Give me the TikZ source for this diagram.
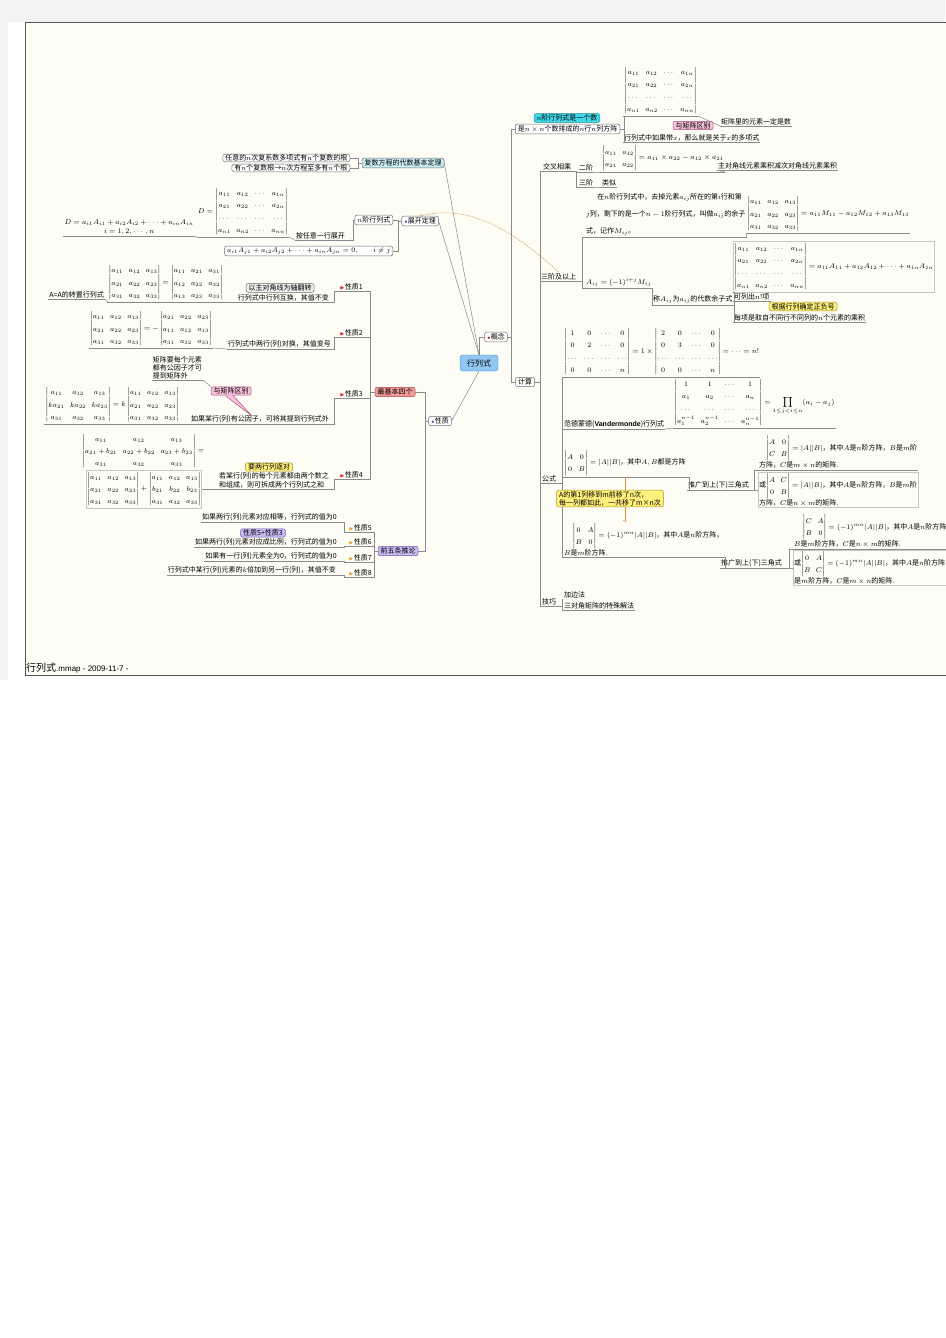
\documentclass[tikz,border=0pt]{standalone}
\usepackage{amsmath}
\usepackage{amssymb}
\usepackage[no-math]{fontspec}
\setmainfont{Noto Sans CJK SC}
\newfontfamily\lat{Liberation Sans}
\usepackage{tikz}
\usetikzlibrary{shapes}

\definecolor{bggray}{HTML}{F3F3F3}
\definecolor{cream}{HTML}{FDFDF5}
\definecolor{framegray}{HTML}{555555}
\definecolor{linegray}{HTML}{8A8A8A}
\definecolor{boxgray}{HTML}{6E6E6E}
\definecolor{cenfill}{HTML}{92C7F2}
\definecolor{cenline}{HTML}{3C7FC0}
\definecolor{cyanlt}{HTML}{C9EEF4}
\definecolor{cyanc}{HTML}{3FD6E6}
\definecolor{cyanb}{HTML}{1F8C98}
\definecolor{pinkc}{HTML}{F8C0DD}
\definecolor{pinkb}{HTML}{A8507E}
\definecolor{yelc}{HTML}{FFF17C}
\definecolor{yelb}{HTML}{A89020}
\definecolor{purc}{HTML}{CBBAF3}
\definecolor{purb}{HTML}{6F58B0}
\definecolor{redc}{HTML}{F39C9C}
\definecolor{redb}{HTML}{A84444}
\definecolor{grayc}{HTML}{EFEFEF}
\definecolor{orc}{HTML}{D99048}
\definecolor{flagred}{HTML}{E02020}
\definecolor{flagyel}{HTML}{E8A020}
\definecolor{dotblue}{HTML}{5050D0}

\newcommand{\rflag}{\textcolor{flagred}{$\scriptscriptstyle\blacktriangleright$}}
\newcommand{\yflag}{\textcolor{flagyel}{$\scriptscriptstyle\blacktriangleright$}}
\newcommand{\rdot}{\textcolor{flagred}{$\scriptstyle\bullet$}}
\newcommand{\bdot}{\textcolor{dotblue}{$\scriptstyle\bullet$}}
\renewcommand{\arraystretch}{1.35}
\setlength{\arraycolsep}{2.8pt}

\begin{document}
\begin{tikzpicture}[x=1pt,y=-1pt,
  every node/.style={font=\fontsize{7}{9}\selectfont, inner sep=1pt},
  lk/.style={draw=linegray, line width=0.5pt},
  ul/.style={append after command={(\tikzlastnode.south west) edge[lk] (\tikzlastnode.south east)}},
  bx/.style={draw=boxgray, fill=white, rounded corners=2pt, inner xsep=2.5pt, inner ysep=1.5pt, line width=0.5pt},
  cl/.style={draw, rounded corners=2pt, inner xsep=2.5pt, inner ysep=1pt, line width=0.5pt},
  fbx/.style={draw=gray!45, line width=0.4pt, inner sep=1pt},
  hub/.style={draw=cenline, fill=cenfill, rounded corners=3pt, minimum width=38pt, minimum height=16pt, font=\fontsize{8}{10}\selectfont},
  orln/.style={draw=orc, line width=0.5pt}]

\useasboundingbox (0,0) rectangle (945,1338);
\fill[white] (0,0) rectangle (945,1338);
\fill[bggray] (0,0) rectangle (945,22);
\fill[bggray] (0,22) rectangle (8,680);
\filldraw[fill=cream,draw=framegray,line width=0.6pt] (25,22.5) rectangle (950,675);

\node[anchor=south west,inner sep=0] (ft) at (26,673) {\fontsize{10}{10}\selectfont 行列式{\lat\fontsize{8}{10}\selectfont .mmap - 2009-11-7 -}};

% centre
\node[hub] (hls) at (479,363) {行列式};
\node[bx] (gn) at (496,337) {\rdot 概念};
\node[bx] (js) at (525,382) {计算};
\node[bx] (xz) at (440,421) {\bdot 性质};
\node[bx] (zk) at (420,221) {\bdot 展开定理};
\node[bx,fill=cyanlt] (fsd) at (403,163) {复数方程的代数基本定理};

\draw[lk] (hls.north) |- (gn.west);
\draw[lk] (hls.south) -- (xz.east);
\draw[lk] (zk.east) -- (hls.north);
\draw[lk] (fsd.east) -- (hls.north);

% fundamental theorem
\node[bx,anchor=east,inner ysep=0.5pt] (f1) at (350,158) {任意的$n$次复系数多项式有$n$个复数的根};
\node[bx,anchor=east,inner ysep=0.5pt] (f2) at (350,168) {有$n$个复数根→$n$次方程至多有$n$个根};
\draw[lk] (fsd.west) -- ++(-4,0) |- (f1.east);
\draw[lk] (fsd.west) -- ++(-4,0) |- (f2.east);

% expansion
\node[bx,anchor=east] (nj) at (393,220) {$n$阶行列式};
\node[bx,anchor=east] (ez) at (393,251) {$a_{i1}A_{j1}+a_{i2}A_{j2}+\cdots+a_{in}A_{jn}=0,\qquad i\neq j$};
\node[ul,anchor=south east] (az) at (346,240) {按任意一行展开};
\node[ul,anchor=south east] (dm) at (289,237) {$D=\begin{vmatrix}a_{11}&a_{12}&\cdots&a_{1n}\\a_{21}&a_{22}&\cdots&a_{2n}\\\cdots&\cdots&\cdots&\cdots\\a_{n1}&a_{n2}&\cdots&a_{nn}\end{vmatrix}$};
\node[ul,anchor=south east,align=center] (df) at (195,236) {$D=a_{i1}A_{i1}+a_{i2}A_{i2}+\cdots+a_{in}A_{in}$\\$i=1,2,\cdots,n$};
\draw[lk] (zk.west) -- ++(-3,0) |- (nj.east);
\draw[lk] (zk.west) -- ++(-3,0) |- (ez.east);
\draw[lk] (nj.west) -- ++(-1,0) |- (az.south east);
\draw[lk] (az.south west) -- (dm.south east);
\draw[lk] (dm.south west) -- (df.south east);

% properties
\node[bx,fill=redc,draw=redb] (zx4) at (395,392) {最基本四个};
\node[bx,fill=purc,draw=purb] (tl5) at (398,551) {前五条推论};
\draw[lk] (xz.west) -- ++(-3,0) |- (zx4.east);
\draw[lk] (xz.west) -- ++(-3,0) |- (tl5.east);

\node[ul,anchor=south east] (p1) at (364,291) {\rflag 性质1};
\node[ul,anchor=south east] (p2) at (364,337) {\rflag 性质2};
\node[ul,anchor=south east] (p3) at (364,398) {\rflag 性质3};
\node[ul,anchor=south east] (p4) at (364,479) {\rflag 性质4};
\foreach \p in {p1,p2,p3,p4}
  \draw[lk] (zx4.west) -- ++(-5,0) |- (\p.south east);

\node[ul,anchor=south east] (t1) at (330,302) {行列式中行列互换，其值不变};
\node[ul,anchor=south east] (m1) at (224,302) {$\begin{vmatrix}a_{11}&a_{12}&a_{13}\\a_{21}&a_{22}&a_{23}\\a_{31}&a_{32}&a_{33}\end{vmatrix}=\begin{vmatrix}a_{11}&a_{21}&a_{31}\\a_{12}&a_{22}&a_{32}\\a_{13}&a_{23}&a_{33}\end{vmatrix}$};
\node[ul,anchor=south east] (tz) at (105,299) {A=A的转置行列式};
\draw[lk] (p1.south west) -- ++(-4,0) |- (t1.south east);
\draw[lk] (t1.south west) -- (m1.south east);
\draw[lk] (m1.south west) -- (tz.south east);

\node[ul,anchor=south east] (t2) at (332,349) {行列式中两行(列)对换，其值变号};
\node[ul,anchor=south east] (m2) at (213,348) {$\begin{vmatrix}a_{11}&a_{12}&a_{13}\\a_{21}&a_{22}&a_{23}\\a_{31}&a_{32}&a_{33}\end{vmatrix}=-\begin{vmatrix}a_{21}&a_{22}&a_{23}\\a_{11}&a_{12}&a_{13}\\a_{31}&a_{32}&a_{33}\end{vmatrix}$};
\draw[lk] (p2.south west) -- ++(-4,0) |- (t2.south east);
\draw[lk] (t2.south west) -- (m2.south east);

\node[ul,anchor=south east] (t3) at (330,424) {如果某行(列)有公因子，可将其提到行列式外};
\node[ul,anchor=south east] (m3) at (180,424) {$\begin{vmatrix}a_{11}&a_{12}&a_{13}\\ka_{21}&ka_{22}&ka_{23}\\a_{31}&a_{32}&a_{33}\end{vmatrix}=k\begin{vmatrix}a_{11}&a_{12}&a_{13}\\a_{21}&a_{22}&a_{23}\\a_{31}&a_{32}&a_{33}\end{vmatrix}$};
\node[ul,anchor=south east,align=left,font=\fontsize{7}{7.8}\selectfont] (n3) at (203,380) {矩阵要每个元素\\都有公因子才可\\提到矩阵外};
\draw[lk] (p3.south west) -- ++(-4,0) |- (t3.south east);
\draw[lk] (t3.south west) -- (m3.south east);

\node[ul,anchor=south east,align=left] (t4) at (330,489) {若某行(列)的每个元素都由两个数之\\和组成，则可拆成两个行列式之和};
\node (m4a) at (143,451) {$\begin{vmatrix}a_{11}&a_{12}&a_{13}\\a_{21}+b_{21}&a_{22}+b_{22}&a_{23}+b_{23}\\a_{31}&a_{32}&a_{33}\end{vmatrix}=$};
\node[fbx] (m4b) at (144,489) {$\begin{vmatrix}a_{11}&a_{12}&a_{13}\\a_{21}&a_{22}&a_{23}\\a_{31}&a_{32}&a_{33}\end{vmatrix}+\begin{vmatrix}a_{11}&a_{12}&a_{13}\\b_{21}&b_{22}&b_{23}\\a_{31}&a_{32}&a_{33}\end{vmatrix}$};
\draw[lk] (p4.south west) -- ++(-4,0) |- (t4.south east);
\draw[lk] (t4.south west) -- (m4b.east);

\node[ul,anchor=south east] (p5) at (373,532) {\yflag 性质5};
\node[ul,anchor=south east] (p6) at (373,546) {\yflag 性质6};
\node[ul,anchor=south east] (p7) at (373,562) {\yflag 性质7};
\node[ul,anchor=south east] (p8) at (373,577) {\yflag 性质8};
\foreach \p in {p5,p6,p7,p8}
  \draw[lk] (tl5.west) -- ++(-4,0) |- (\p.south east);
\node[ul,anchor=south east] (q5) at (338,522) {如果两行(列)元素对应相等，行列式的值为0};
\node[ul,anchor=south east] (q6) at (338,547) {如果两行(列)元素对应成比例，行列式的值为0};
\node[ul,anchor=south east] (q7) at (338,561) {如果有一行(列)元素全为0，行列式的值为0};
\node[ul,anchor=south east] (q8) at (337,575) {行列式中某行(列)元素的$k$倍加到另一行(列)，其值不变};
\draw[lk] (p5.south west) -- ++(-3,0) |- (q5.south east);
\draw[lk] (p6.south west) -- ++(-3,0) |- (q6.south east);
\draw[lk] (p7.south west) -- ++(-3,0) |- (q7.south east);
\draw[lk] (p8.south west) -- ++(-3,0) |- (q8.south east);

% concept
\node[bx,anchor=west] (dy) at (515,129) {是$n\times n$个数排成的$n$行$n$列方阵};
\draw[lk] (gn.east) -- ++(4,0) |- (dy.west);
\draw[lk] (gn.east) -- ++(4,0) |- (js.west);
\node[ul,anchor=south west] (mx) at (623,116) {$\begin{vmatrix}a_{11}&a_{12}&\cdots&a_{1n}\\a_{21}&a_{22}&\cdots&a_{2n}\\\cdots&\cdots&\cdots&\cdots\\a_{n1}&a_{n2}&\cdots&a_{nn}\end{vmatrix}$};
\node[ul,anchor=south west] (xx) at (623,142) {行列式中如果带$x$，那么就是关于$x$的多项式};
\node[ul,anchor=south west] (jy) at (720,126) {矩阵里的元素一定是数};
\draw[lk] (dy.east) -- ++(4,0) |- (mx.south west);
\draw[lk] (dy.east) -- ++(4,0) |- (xx.south west);
\draw[lk] (mx.south east) -- (jy.south west);

% computation
\node[ul,anchor=south west] (jc) at (542,171) {交叉相乘};
\node[ul,anchor=south west] (sj) at (540,281) {三阶及以上};
\node[ul,anchor=south west] (gs) at (541,483) {公式};
\node[ul,anchor=south west] (jq) at (541,606) {技巧};
\foreach \c in {jc,sj,gs,jq}
  \draw[lk] (js.east) -- ++(5,0) |- (\c.south west);

\node[ul,anchor=south west] (ej) at (578,172) {二阶};
\node[ul,anchor=south west] (sj3) at (578,187) {三阶};
\draw[lk] (jc.south east) -- ++(4,0) |- (ej.south west);
\draw[lk] (jc.south east) -- ++(4,0) |- (sj3.south west);
\node[ul,anchor=south west] (e2) at (601,172) {$\begin{vmatrix}a_{11}&a_{12}\\a_{21}&a_{22}\end{vmatrix}=a_{11}\times a_{22}-a_{12}\times a_{21}$};
\node[ul,anchor=south west] (zd) at (717,170) {主对角线元素乘积减次对角线元素乘积};
\node[ul,anchor=south west] (ls) at (601,187) {类似};
\draw[lk] (ej.south east) -- ++(4,0) |- (e2.south west);
\draw[lk] (e2.south east) -- (zd.south west);
\draw[lk] (sj3.south east) -- ++(4,0) |- (ls.south west);

\node[ul,anchor=south west,align=left,font=\fontsize{7}{17}\selectfont] (yz) at (585,237) {\hspace*{1.6em}在$n$阶行列式中，去掉元素$a_{ij}$所在的第$i$行和第\\$j$列，剩下的是一个$n-1$阶行列式，叫做$a_{ij}$的余子\\式，记作$M_{ij}$。};
\node[ul,anchor=south west] (m3j) at (746,233) {$\begin{vmatrix}a_{11}&a_{12}&a_{13}\\a_{21}&a_{22}&a_{23}\\a_{31}&a_{32}&a_{33}\end{vmatrix}=a_{11}M_{11}-a_{12}M_{12}+a_{13}M_{13}$};
\node[ul,anchor=south west] (aij) at (585,288) {$A_{ij}=(-1)^{i+j}M_{ij}$};
\node[ul,anchor=south west] (cdy) at (652,305) {称$A_{ij}$为$a_{ij}$的代数余子式};
\node[fbx,anchor=south west] (mnj) at (733,292) {$\begin{vmatrix}a_{11}&a_{12}&\cdots&a_{1n}\\a_{21}&a_{22}&\cdots&a_{2n}\\\cdots&\cdots&\cdots&\cdots\\a_{n1}&a_{n2}&\cdots&a_{nn}\end{vmatrix}=a_{11}A_{11}+a_{12}A_{12}+\cdots+a_{1n}A_{1n}$};
\node[ul,anchor=south west] (kl) at (733,301) {可列出$n!$项};
\node[ul,anchor=south west] (mx2) at (733,322) {每项是取自不同行不同列的$n$个元素的乘积};
\draw[lk] (sj.south east) -- ++(5,0) |- (yz.south west);
\draw[lk] (sj.south east) -- ++(5,0) |- (aij.south west);
\draw[lk] (yz.south east) -- (m3j.south west);
\draw[lk] (aij.south east) |- (cdy.south west);
\draw[lk] (cdy.south east) -- ++(1,0) |- (mnj.south west);
\draw[lk] (cdy.south east) -- ++(1,0) |- (kl.south west);
\draw[lk] (cdy.south east) -- ++(1,0) |- (mx2.south west);

% formulas
\node[ul,anchor=south west] (dg) at (563,377) {$\begin{vmatrix}1&0&\cdots&0\\0&2&\cdots&0\\\cdots&\cdots&\cdots&\cdots\\0&0&\cdots&n\end{vmatrix}=1\times\begin{vmatrix}2&0&\cdots&0\\0&3&\cdots&0\\\cdots&\cdots&\cdots&\cdots\\0&0&\cdots&n\end{vmatrix}=\cdots=n!$};
\node[ul,anchor=south west] (vt) at (563,429) {范德蒙德({\lat\bfseries Vandermonde})行列式};
\node[ul,anchor=south west] (vm) at (673,428) {$\begin{vmatrix}1&1&\cdots&1\\a_1&a_2&\cdots&a_n\\\cdots&\cdots&\cdots&\cdots\\a_1^{n-1}&a_2^{n-1}&\cdots&a_n^{n-1}\end{vmatrix}\displaystyle=\prod_{1\le j<i\le n}(a_i-a_j)$};
\node[ul,anchor=south west] (ab) at (563,477) {$\begin{vmatrix}A&0\\0&B\end{vmatrix}=|A||B|$，其中$A,B$都是方阵};
\node[ul,anchor=south west] (tg1) at (687,490) {推广到上(下)三角式};
\node[ul,anchor=south west,align=left] (h1a) at (758,470) {\hspace*{2.5mm}$\begin{vmatrix}A&0\\C&B\end{vmatrix}=|A||B|$，其中$A$是$n$阶方阵，$B$是$m$阶\\方阵，$C$是$m\times n$的矩阵.};
\node[fbx,anchor=west,align=left] (h1b) at (758,490) {或$\begin{vmatrix}A&C\\0&B\end{vmatrix}=|A||B|$，其中$A$是$n$阶方阵，$B$是$m$阶\\方阵，$C$是$n\times m$的矩阵.};
\node[ul,anchor=south west,align=left] (ba) at (563,557) {\hspace*{3mm}$\begin{vmatrix}0&A\\B&0\end{vmatrix}=(-1)^{mn}|A||B|$，其中$A$是$n$阶方阵，\\$B$是$m$阶方阵.};
\node[ul,anchor=south west] (tg2) at (720,568) {推广到上(下)三角式};
\node[ul,anchor=south west,align=left] (h2a) at (793,549) {\hspace*{3mm}$\begin{vmatrix}C&A\\B&0\end{vmatrix}=(-1)^{mn}|A||B|$，其中$A$是$n$阶方阵，\\$B$是$m$阶方阵，$C$是$n\times m$的矩阵.};
\node[fbx,anchor=west,align=left] (h2b) at (793,568) {或$\begin{vmatrix}0&A\\B&C\end{vmatrix}=(-1)^{mn}|A||B|$，其中$A$是$n$阶方阵，$B$\\是$m$阶方阵，$C$是$m\times n$的矩阵.};
\foreach \f in {dg,vt,ab,ba}
  \draw[lk] (gs.south east) -- ++(5,0) |- (\f.south west);
\draw[lk] (vt.south east) -- (vm.south west);
\draw[lk] (ab.south east) -- ++(3,0) |- (tg1.south west);
\draw[lk] (tg1.south east) -- ++(4,0) |- (h1a.south west);
\draw[lk] (tg1.south east) -- ++(4,0) |- (h1b.west);
\draw[lk] (ba.south east) -- ++(1,0) |- (tg2.south west);
\draw[lk] (tg2.south east) -- ++(6,0) |- (h2a.south west);
\draw[lk] (tg2.south east) -- ++(6,0) |- (h2b.west);
\draw[orln,->] (ab.south) -- (ab.south |- ba.north);

% tricks
\node[anchor=south west] (jb) at (563,599) {加边法};
\node[ul,anchor=south west] (sd) at (563,610) {三对角矩阵的特殊解法};
\draw[lk] (jq.south east) -- ++(5,0) |- (jb.south west);
\draw[lk] (jq.south east) -- ++(5,0) |- (sd.south west);

\draw[orln,dash pattern=on 1.5pt off 1pt,->] (sj.north) .. controls (515,232) and (470,203) .. (zk.north);

% callouts
\node[cl,fill=cyanc,draw=cyanb] (cd) at (567,118) {$n$阶行列式是一个数};
\node[cl,fill=pinkc,draw=pinkb] (cj) at (693,125.5) {与矩阵区别};
\node[cl,fill=grayc,draw=boxgray] (c1) at (280,288) {以主对角线为轴翻转};
\node[cl,fill=pinkc,draw=pinkb] (c3) at (231,391) {与矩阵区别};
\fill[pinkc] ([xshift=-6pt]c3.south) -- (252,416) -- ([xshift=2pt]c3.south) -- cycle;
\draw[pinkb,line width=0.5pt] ([xshift=-6pt]c3.south) -- (252,416) -- ([xshift=2pt]c3.south);
\draw[lk] (n3.south east) -- (c3.north west);
\node[cl,fill=yelc,draw=yelb] (c4) at (269,467) {要两行列逐对};
\node[cl,fill=purc,draw=purb] (c5) at (263,533) {性质5+性质3};
\node[cl,fill=yelc,draw=yelb] (cz) at (803,306.5) {根据行列确定正负号};
\node[cl,fill=yelc,draw=yelb,align=left,font=\fontsize{7}{8}\selectfont] (ca) at (610,498.5) {A的第1列移到m前移了n次，\\每一列都如此，一共移了m×n次};

\end{tikzpicture}
\end{document}
